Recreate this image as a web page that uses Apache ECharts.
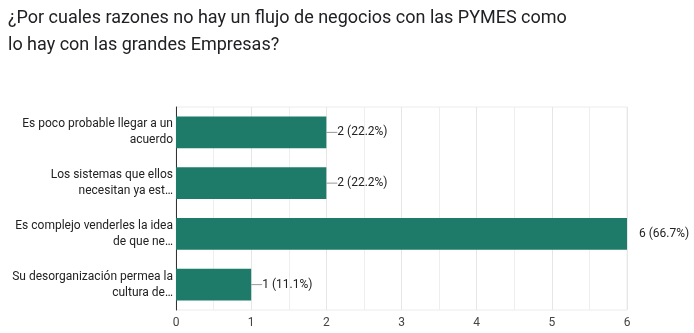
<!DOCTYPE html>
<html>
<head>
<meta charset="utf-8">
<script src="https://cdn.jsdelivr.net/npm/echarts@6/dist/echarts.min.js"></script>
<style>
  html, body { margin: 0; padding: 0; background: #fff; }
  #chart { width: 694px; height: 333px; }
</style>
</head>
<body>
<div id="chart"></div>
<script>
// Survey answers (already wrapped/truncated as shown on the axis)
const categories = [
  'Es poco probable llegar a un\nacuerdo',
  'Los sistemas que ellos\nnecesitan ya est…',
  'Es complejo venderles la idea\nde que ne…',
  'Su desorganización permea la\ncultura de…'
];
const counts = [2, 2, 6, 1];
const percents = ['22.2%', '22.2%', '66.7%', '11.1%'];
const xTicks = [0, 1, 2, 3, 4, 5, 6];

const barColor = '#1e7b6a';
const xMax = xTicks[xTicks.length - 1];

const seriesData = counts.map((v, i) => ({
  value: v,
  label: {
    formatter: (v >= xMax ? '' : '{lead|}') + '{txt|' + v + ' (' + percents[i] + ')}',
    distance: v >= xMax ? 12 : 0
  }
}));

const chart = echarts.init(document.getElementById('chart'), null, { renderer: 'canvas' });
chart.setOption({
  animation: false,
  title: {
    text: '¿Por cuales razones no hay un flujo de negocios con las PYMES como\nlo hay con las grandes Empresas?',
    left: 3,
    top: 0,
    textStyle: {
      fontFamily: 'Roboto',
      fontSize: 18,
      fontWeight: 'normal',
      color: '#202124',
      lineHeight: 27
    }
  },
  grid: {
    left: 176,
    right: 67,
    top: 107,
    bottom: 23,
    show: true,
    borderColor: '#ececec',
    borderWidth: 1
  },
  xAxis: {
    type: 'value',
    min: 0,
    max: xMax,
    interval: 1,
    axisLine: { show: false },
    axisTick: { show: false },
    axisLabel: {
      color: '#444',
      fontFamily: 'Roboto',
      fontSize: 12,
      margin: 7
    },
    splitLine: { show: true, lineStyle: { color: '#e6e6e6', width: 1 } },
    minorTick: { show: false, splitNumber: 2 },
    minorSplitLine: { show: true, lineStyle: { color: '#eeeeee', width: 1 } }
  },
  yAxis: {
    type: 'category',
    inverse: true,
    data: categories,
    axisLine: { show: true, lineStyle: { color: '#333', width: 1 } },
    axisTick: { show: false },
    splitLine: { show: false },
    axisLabel: {
      color: '#222',
      fontFamily: 'Roboto',
      fontSize: 12,
      lineHeight: 16,
      margin: 3,
      align: 'right'
    }
  },
  series: [{
    type: 'bar',
    data: seriesData,
    barWidth: '63%',
    itemStyle: { color: barColor },
    label: {
      show: true,
      position: 'right',
      rich: {
        lead: { width: 11, height: 1, backgroundColor: '#999' },
        txt: { color: '#222', fontFamily: 'Roboto', fontSize: 12 }
      }
    }
  }]
});
</script>
</body>
</html>
